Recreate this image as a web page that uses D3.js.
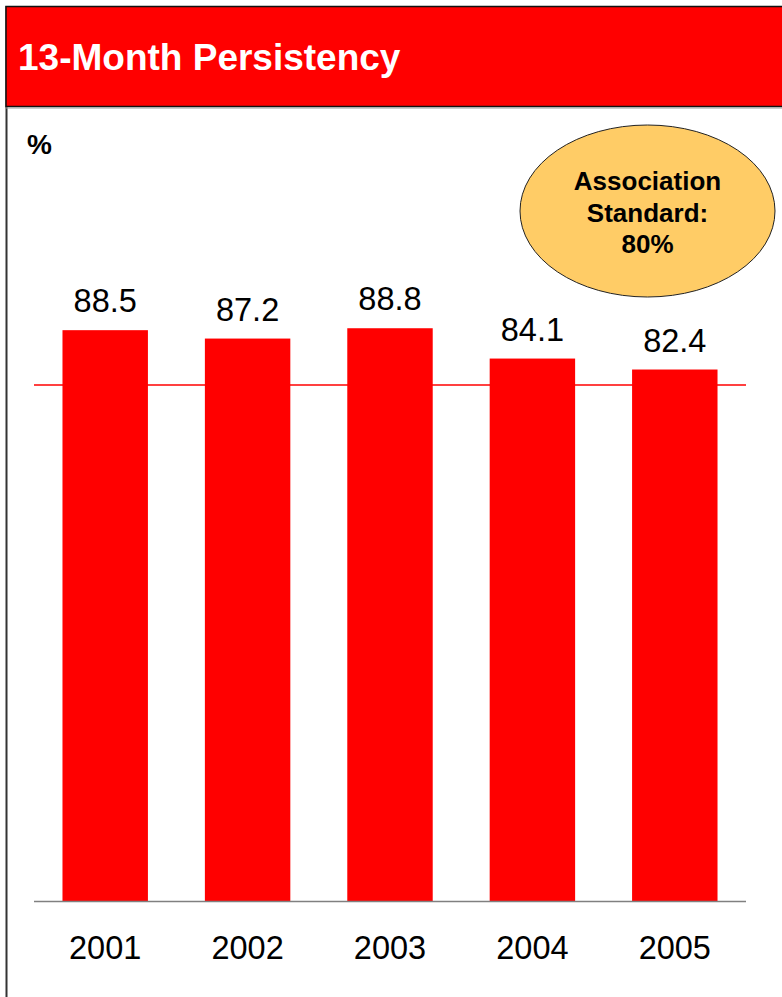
<!DOCTYPE html>
<html>
<head>
<meta charset="utf-8">
<script src="https://cdn.jsdelivr.net/npm/d3@7"></script>
<style>
  html, body { margin: 0; padding: 0; background: #fff; }
  svg { display: block; font-family: "Liberation Sans", Arial, sans-serif; }
</style>
</head>
<body>
<svg id="chart" width="782" height="997"></svg>
<script>
// Data
const years = ["2001", "2002", "2003", "2004", "2005"];
const persistency = [88.5, 87.2, 88.8, 84.1, 82.4];
const standardValue = 80;
const standardLines = ["Association", "Standard:", "80%"];
const titleText = "13-Month Persistency";
const unitLabel = "%";

const svg = d3.select("#chart");
const W = 782, H = 997;

// Panel frame: left edge and red title bar
svg.append("line")
  .attr("x1", 6.5).attr("x2", 6.5).attr("y1", 6).attr("y2", H)
  .attr("stroke", "#333").attr("stroke-width", 2);

svg.append("rect")
  .attr("x", 6).attr("y", 6.5).attr("width", W).attr("height", 100)
  .attr("fill", "#ff0000").attr("stroke", "#111").attr("stroke-width", 1.5);
svg.append("line")
  .attr("x1", 6).attr("x2", W).attr("y1", 108).attr("y2", 108)
  .attr("stroke", "#9a9a9a").attr("stroke-width", 1);

svg.append("text")
  .attr("x", 18).attr("y", 70)
  .attr("fill", "#fff").attr("font-size", 37).attr("font-weight", "bold")
  .text(titleText);

svg.append("text")
  .attr("x", 27).attr("y", 154)
  .attr("fill", "#000").attr("font-size", 28).attr("font-weight", "bold")
  .text(unitLabel);

// Scales
const x = d3.scaleBand().domain(years).range([34, 746])
  .paddingInner(0.4).paddingOuter(0.2);
const y = d3.scaleLinear().domain([0, 100]).range([901, 256]);

// Association standard reference line
svg.append("line")
  .attr("x1", 34).attr("x2", 746)
  .attr("y1", y(standardValue))
  .attr("y2", y(standardValue))
  .attr("stroke", "#ff0000").attr("stroke-width", 1.5);

// Bars
svg.append("g").selectAll("rect")
  .data(years.map((yr, i) => ({ yr, v: persistency[i] })))
  .join("rect")
  .attr("x", d => x(d.yr))
  .attr("y", d => y(d.v))
  .attr("width", x.bandwidth())
  .attr("height", d => y(0) - y(d.v))
  .attr("fill", "#ff0000");

// Value labels
svg.append("g").selectAll("text")
  .data(years.map((yr, i) => ({ yr, v: persistency[i] })))
  .join("text")
  .attr("x", d => x(d.yr) + x.bandwidth() / 2)
  .attr("y", d => y(d.v) - 18)
  .attr("text-anchor", "middle")
  .attr("font-size", 32.5)
  .attr("fill", "#000")
  .text(d => d3.format(".1f")(d.v));

// Category axis
const xAxis = svg.append("g")
  .attr("transform", `translate(0,${y(0)})`)
  .call(d3.axisBottom(x).tickSize(0).tickPadding(0));
xAxis.select(".domain").attr("stroke", "#808080").attr("stroke-width", 1.5)
  .attr("d", "M34,0.5H746");
xAxis.selectAll(".tick text")
  .attr("y", 58).attr("dy", 0)
  .attr("font-size", 32.5).attr("fill", "#000")
  .attr("font-family", "\"Liberation Sans\", Arial, sans-serif");

// Association standard callout
const cx = 647.5, cy = 211;
svg.append("ellipse")
  .attr("cx", cx).attr("cy", cy).attr("rx", 127.5).attr("ry", 86)
  .attr("fill", "#ffcc66").attr("stroke", "#222").attr("stroke-width", 1);
svg.append("g").selectAll("text")
  .data(standardLines)
  .join("text")
  .attr("x", cx)
  .attr("y", (d, i) => 190 + i * 31.5)
  .attr("text-anchor", "middle")
  .attr("font-size", 26).attr("font-weight", "bold").attr("fill", "#000")
  .text(d => d);
</script>
</body>
</html>
